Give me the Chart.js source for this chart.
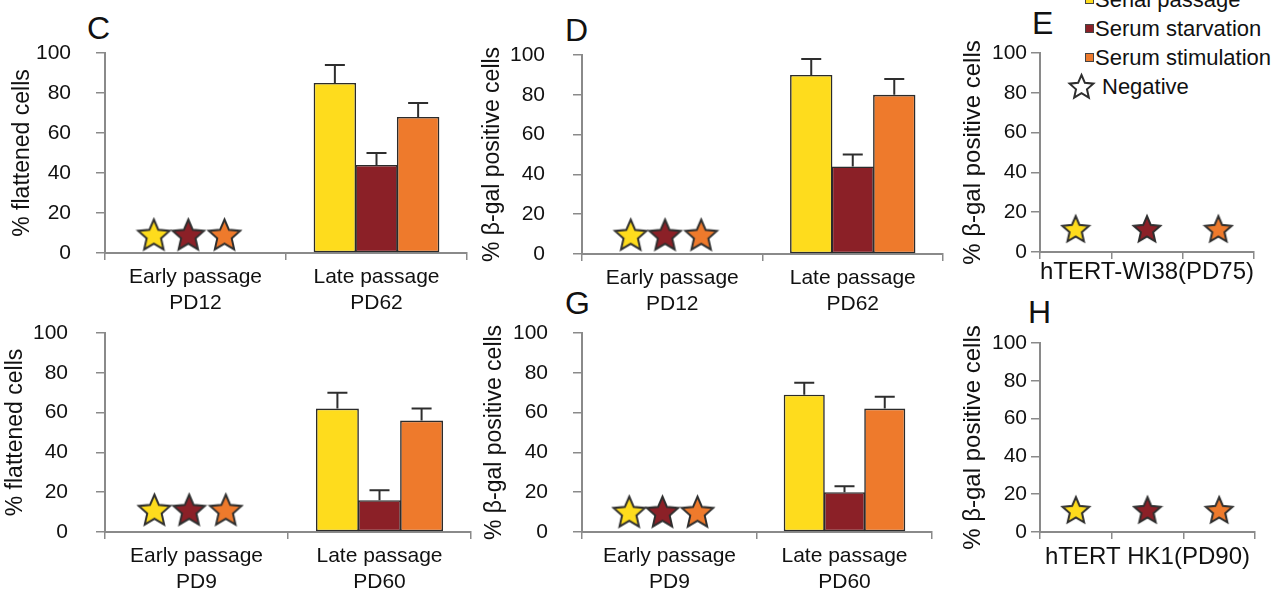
<!DOCTYPE html>
<html lang="en">
<head>
<meta charset="UTF-8">
<title>Flattened and SA-beta-gal positive cells</title>
<script src="https://cdn.jsdelivr.net/npm/chart.js@4"></script>
<style>
    body {
        margin: 0;
        width: 1287px;
        height: 606px;
        overflow: hidden;
        position: relative;
        background: #fff;
        font-family: 'Liberation Sans', Arial, sans-serif;
        color: #111;
    }
    canvas { position: absolute; }
    .letter {
        position: absolute;
        font-size: 32px;
        line-height: 1;
    }
    #legend {
        position: absolute;
        left: 1085px;
        top: -15.5px;
        font-size: 22px;
    }
    #legend .row {
        position: relative;
        height: 29px;
        line-height: 29px;
        padding-left: 10px;
        white-space: nowrap;
    }
    #legend .box {
        position: absolute;
        left: 0;
        top: 10px;
        width: 9px;
        height: 9px;
        border: 1px solid #444;
        box-sizing: border-box;
    }
    #legend .row canvas { position: absolute; left: -18px; top: 0px; }
    #legend .star { padding-left: 17px; }
</style>
</head>
<body>
<div class="letter" style="left:87px; top:12px;">C</div>
<div class="letter" style="left:565px; top:14px;">D</div>
<div class="letter" style="left:1032px; top:7px;">E</div>
<div class="letter" style="left:565px; top:287px;">G</div>
<div class="letter" style="left:1028px; top:296px;">H</div>
<div id="legend"></div>

<script>
    const seriesNames = ['Serial passage', 'Serum starvation', 'Serum stimulation'];
    const seriesColors = ['#FEDC1D', '#8B2027', '#EE7A2C'];

    const passageLabelsTop = [['Early passage', 'PD12'], ['Late passage', 'PD62']];
    const passageLabelsBottom = [['Early passage', 'PD9'], ['Late passage', 'PD60']];
    const telomeraseLabels = ['', '', ''];

    // late passage means and upper error (%), in series order
    const flattenedLateTop = [85, 44, 68];
    const flattenedErrTop = [9, 6, 7];
    const galLateTop = [90, 44, 80];
    const galErrTop = [8, 6, 8];
    const flattenedLateBottom = [62, 16, 56];
    const flattenedErrBottom = [8, 5, 6];
    const galLateBottom = [69, 20, 62];
    const galErrBottom = [6, 3, 6];

    // negative results, drawn as stars
    const starOffsets = [-0.23, -0.04, 0.16];   // inside the early passage category
    const starCategories = [0, 1, 2];
    const negativeC = [9, 9, 9];
    const negativeD = [9.5, 9.5, 9.5];
    const negativeE = [11.5, 11.5, 11.5];
    const negativeF = [11, 11, 11];
    const negativeG = [10, 10, 10];
    const negativeH = [11.6, 11.6, 11.6];

    const LATE = 1;   // index of the late passage category

    const FONT = "'Liberation Sans', Arial, sans-serif";
    const INK = '#111';
    const AXIS = '#8a8a8a';

    function starImage(fill, size) {
        const c = document.createElement('canvas');
        c.width = c.height = size;
        const g = c.getContext('2d');
        const r = size / 2 - 2, ri = r * 0.46;
        const cx = size / 2, cy = size / 2 + 1;
        g.beginPath();
        for (let k = 0; k < 10; k++) {
            const a = -Math.PI / 2 + k * Math.PI / 5;
            const rr = k % 2 ? ri : r;
            const px = cx + rr * Math.cos(a), py = cy + rr * Math.sin(a);
            if (k === 0) g.moveTo(px, py); else g.lineTo(px, py);
        }
        g.closePath();
        g.fillStyle = fill;
        g.fill();
        g.lineWidth = 2;
        g.strokeStyle = '#2e2e2e';
        g.stroke();
        return c;
    }

    // upward error bars on top of each bar
    const errorBars = {
        id: 'errorBars',
        afterDatasetsDraw(chart) {
            const ctx = chart.ctx;
            const y = chart.scales.y;
            chart.data.datasets.forEach((ds, i) => {
                if (!ds.errors) return;
                chart.getDatasetMeta(i).data.forEach((bar, j) => {
                    const v = ds.data[j].y, e = ds.errors[j];
                    if (v == null || e == null) return;
                    const top = y.getPixelForValue(v + e);
                    ctx.save();
                    ctx.strokeStyle = '#2e2e2e';
                    ctx.lineWidth = 2;
                    ctx.beginPath();
                    ctx.moveTo(bar.x, bar.y);
                    ctx.lineTo(bar.x, top);
                    ctx.moveTo(bar.x - 10, top);
                    ctx.lineTo(bar.x + 10, top);
                    ctx.stroke();
                    ctx.restore();
                });
            });
        }
    };

    function barSets(late, err) {
        return seriesNames.map((name, i) => ({
            label: name,
            data: [{ x: LATE, y: late[i] }],
            errors: [err[i]],
            backgroundColor: seriesColors[i],
            borderColor: '#2b2b2b',
            borderWidth: 1.6,
            borderSkipped: false,
            categoryPercentage: 0.69,
            barPercentage: 1.02
        }));
    }

    function starSet(xs, ys, size) {
        return {
            type: 'scatter',
            label: 'Negative',
            data: ys.map((v, i) => ({ x: xs[i], y: v })),
            pointStyle: seriesColors.map(c => starImage(c, size)),
            pointRadius: size / 2
        };
    }

    function panel(p) {
        const canvas = document.createElement('canvas');
        canvas.width = p.right - p.left + 3;
        canvas.height = p.y0 - p.top + p.xh;
        canvas.style.left = p.left + 'px';
        canvas.style.top = p.top + 'px';
        document.body.appendChild(canvas);

        const xTitle = p.xTitle
            ? { display: true, text: p.xTitle, color: INK, font: { family: FONT, size: 24 },
                padding: { top: 0, bottom: p.xTitlePad } }
            : { display: false };

        new Chart(canvas, {
            type: 'bar',
            data: { datasets: p.datasets },
            plugins: [errorBars],
            options: {
                responsive: false,
                animation: false,
                events: [],
                layout: { autoPadding: false, padding: { top: p.y100 - p.top, right: 3, bottom: 0, left: 0 } },
                plugins: { legend: { display: false }, tooltip: { enabled: false } },
                scales: {
                    // one numeric x axis shared by bars and stars; one tick per category
                    x: {
                        type: 'linear',
                        offset: false,
                        min: -0.5,
                        max: p.labels.length - 0.5,
                        afterBuildTicks: s => { s.ticks = p.labels.map((_, i) => ({ value: i })); },
                        grid: { offset: true, drawOnChartArea: false, tickLength: 7, color: AXIS, lineWidth: 1.5 },
                        border: { color: AXIS, width: 2 },
                        ticks: { color: INK, font: { family: FONT, size: 21 }, padding: 5, maxRotation: 0,
                                 autoSkip: false, callback: (v, i) => p.labels[i] },
                        title: xTitle,
                        afterFit: s => { s.height = p.xh; }
                    },
                    y: {
                        min: 0,
                        max: 100,
                        ticks: { stepSize: 20, color: INK, font: { family: FONT, size: 21 }, padding: p.tickPad },
                        grid: { drawOnChartArea: false, tickLength: 9, color: AXIS, lineWidth: 1.5 },
                        border: { color: AXIS, width: 2 },
                        title: { display: true, text: p.yTitle, color: INK,
                                 font: { family: FONT, size: p.yTitleSize },
                                 padding: { top: p.yTitlePad, bottom: 0 } },
                        afterFit: s => { s.width = p.axisX - p.left; }
                    }
                }
            }
        });
    }

    const flatTitle = '% flattened cells';
    const galTitle = '% \u03B2-gal positive cells';

    // C
    panel({ left: 0, top: 0, axisX: 105, right: 467, y100: 53, y0: 253, xh: 70,
            tickPad: 25, yTitle: flatTitle, yTitleSize: 23, yTitlePad: 9,
            labels: passageLabelsTop,
            datasets: [...barSets(flattenedLateTop, flattenedErrTop), starSet(starOffsets, negativeC, 37)] });
    // D
    panel({ left: 470, top: 0, axisX: 582, right: 943, y100: 55, y0: 254, xh: 70,
            tickPad: 28, yTitle: galTitle, yTitleSize: 23, yTitlePad: 9,
            labels: passageLabelsTop,
            datasets: [...barSets(galLateTop, galErrTop), starSet(starOffsets, negativeD, 37)] });
    // E
    panel({ left: 950, top: 0, axisX: 1040, right: 1254, y100: 53, y0: 252, xh: 45,
            tickPad: 4, yTitle: galTitle, yTitleSize: 24, yTitlePad: 9,
            labels: telomeraseLabels, xTitle: 'hTERT-WI38(PD75)', xTitlePad: 10,
            datasets: [starSet(starCategories, negativeE, 32)] });
    // F
    panel({ left: 0, top: 280, axisX: 105, right: 471, y100: 333, y0: 532, xh: 70,
            tickPad: 28, yTitle: flatTitle, yTitleSize: 23, yTitlePad: 2,
            labels: passageLabelsBottom,
            datasets: [...barSets(flattenedLateBottom, flattenedErrBottom), starSet(starOffsets, negativeF, 37)] });
    // G
    panel({ left: 470, top: 280, axisX: 582, right: 932, y100: 333, y0: 532, xh: 70,
            tickPad: 25, yTitle: galTitle, yTitleSize: 23, yTitlePad: 11,
            labels: passageLabelsBottom,
            datasets: [...barSets(galLateBottom, galErrBottom), starSet(starOffsets, negativeG, 37)] });
    // H
    panel({ left: 950, top: 280, axisX: 1040, right: 1255, y100: 343, y0: 532, xh: 45,
            tickPad: 4, yTitle: galTitle, yTitleSize: 24, yTitlePad: 9,
            labels: telomeraseLabels, xTitle: 'hTERT HK1(PD90)', xTitlePad: 5,
            datasets: [starSet(starCategories, negativeH, 32)] });

    // legend built from the series names
    const legend = document.getElementById('legend');
    seriesNames.forEach((name, i) => {
        const row = document.createElement('div');
        row.className = 'row';
        const box = document.createElement('span');
        box.className = 'box';
        box.style.background = seriesColors[i];
        row.appendChild(box);
        row.appendChild(document.createTextNode(name));
        legend.appendChild(row);
    });
    const negRow = document.createElement('div');
    negRow.className = 'row star';
    const negIcon = starImage('#ffffff', 29);
    negRow.appendChild(negIcon);
    negRow.appendChild(document.createTextNode('Negative'));
    legend.appendChild(negRow);
</script>
</body>
</html>
